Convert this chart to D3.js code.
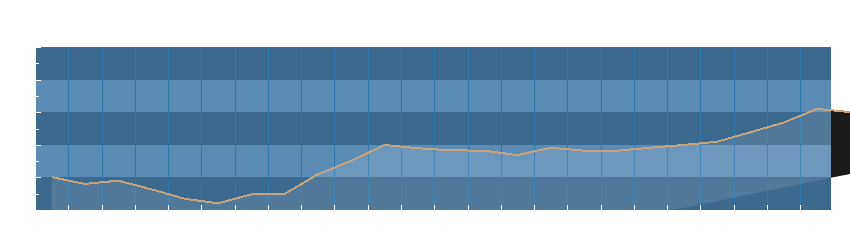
<!DOCTYPE html>
<html>
<head>
<meta charset="utf-8">
<script src="https://cdn.jsdelivr.net/npm/d3@7"></script>
<style>
  html, body { margin: 0; padding: 0; background: #ffffff; }
  svg { display: block; }
</style>
</head>
<body>
<svg id="chart" width="850" height="240"></svg>
<script>
// ---- data ----
const categories = d3.range(1, 26).map(String);           // 25 points, last one falls past the plot edge
const values = [20.2, 16.0, 18.0, 12.7, 6.9, 4.1, 9.6, 9.8, 21.9, 30.1,
                39.9, 37.9, 36.6, 36.4, 33.7, 38.2, 36.4, 36.4, 38.2, 39.9,
                41.9, 47.7, 53.6, 62.0, 60.1];
const baseline = [-77.2, 22.1];                            // slanted floor of the area (first, last)
const yTicks = [0, 10, 20, 30, 40, 50, 60, 70, 80, 90, 100];
const yMajor = [0, 20, 40, 60, 80, 100];

// ---- layout ----
const W = 850, H = 240;
const plot = { left: 36, right: 831, top: 47, bottom: 210 };
const step = 33.27;
const firstX = 35.0 + step / 2;

const svg = d3.select("#chart");

const x = d3.scalePoint()
  .domain(categories)
  .range([firstX, firstX + step * (categories.length - 1)]);
const y = d3.scaleLinear().domain([0, 100]).range([plot.bottom, plot.top]);

const defs = svg.append("defs");
defs.append("clipPath").attr("id", "plotClip")
  .append("rect")
  .attr("x", plot.left).attr("y", plot.top)
  .attr("width", plot.right - plot.left).attr("height", plot.bottom - plot.top);
defs.append("clipPath").attr("id", "sideClip")
  .append("rect")
  .attr("x", plot.right).attr("y", 0)
  .attr("width", W - plot.right).attr("height", H);

// bands
const bandData = d3.pairs(yMajor);
svg.append("g").selectAll("rect").data(bandData).join("rect")
  .attr("x", plot.left)
  .attr("width", plot.right - plot.left)
  .attr("y", d => y(d[1]))
  .attr("height", d => y(d[0]) - y(d[1]))
  .attr("fill", (d, i) => i % 2 === 0 ? "#3c6a8e" : "#5b8cb6")
  .attr("shape-rendering", "crispEdges");

// vertical grid lines at category boundaries
const boundaries = categories.slice(0, categories.length - 2).map(c => x(c) + step / 2);
svg.append("g").selectAll("line").data(boundaries).join("line")
  .attr("x1", d => Math.round(d) + 0.5).attr("x2", d => Math.round(d) + 0.5)
  .attr("y1", plot.top).attr("y2", plot.bottom)
  .attr("stroke", "#2a78b0").attr("stroke-width", 1)
  .attr("shape-rendering", "crispEdges");

// top border
svg.append("line")
  .attr("x1", plot.left).attr("x2", plot.right)
  .attr("y1", plot.top + 0.5).attr("y2", plot.top + 0.5)
  .attr("stroke", "#3a6d95").attr("shape-rendering", "crispEdges");

// area with slanted base
const n = values.length;
const baseAt = i => baseline[0] + (baseline[1] - baseline[0]) * i / (n - 1);
const area = d3.area()
  .x((d, i) => x(categories[i]))
  .y0((d, i) => y(baseAt(i)))
  .y1(d => y(d));

svg.append("path")
  .datum(values)
  .attr("d", area)
  .attr("fill", "#ffffff").attr("fill-opacity", 0.11)
  .attr("clip-path", "url(#plotClip)");

svg.append("path")
  .datum(values)
  .attr("d", area)
  .attr("fill", "#1b1b1b")
  .attr("clip-path", "url(#sideClip)");

// line
const line = d3.line()
  .x((d, i) => x(categories[i]))
  .y(d => y(d));
svg.append("path")
  .datum(values)
  .attr("d", line)
  .attr("fill", "none")
  .attr("stroke", "#c9a379")
  .attr("stroke-width", 2)
  .attr("stroke-linejoin", "round")
  .attr("shape-rendering", "crispEdges");

// left ticks (inward, white)
svg.append("g").selectAll("line").data(yTicks).join("line")
  .attr("x1", plot.left)
  .attr("x2", d => plot.left + (yMajor.includes(d) ? 5 : 3))
  .attr("y1", d => Math.round(y(d)) + 0.5)
  .attr("y2", d => Math.round(y(d)) + 0.5)
  .attr("stroke", "#ffffff").attr("stroke-width", 1)
  .attr("shape-rendering", "crispEdges");

// bottom ticks (inward, white)
svg.append("g").selectAll("line").data(boundaries).join("line")
  .attr("x1", d => Math.round(d) + 0.5).attr("x2", d => Math.round(d) + 0.5)
  .attr("y1", plot.bottom - 5).attr("y2", plot.bottom)
  .attr("stroke", "#ffffff").attr("stroke-width", 1)
  .attr("shape-rendering", "crispEdges");
</script>
</body>
</html>
